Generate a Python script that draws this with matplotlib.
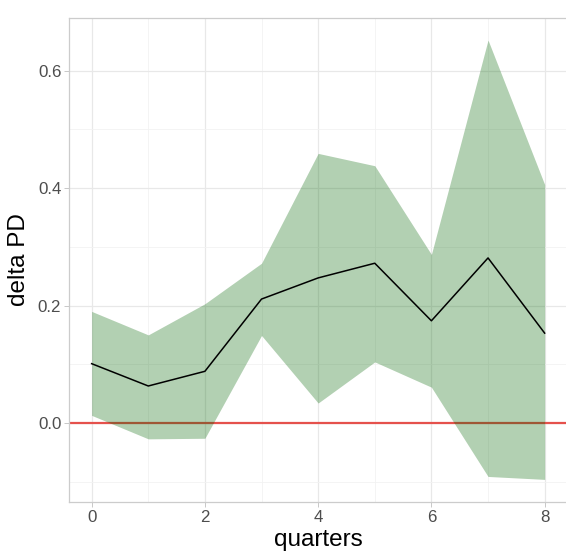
import matplotlib
matplotlib.use("Agg")
import matplotlib.pyplot as plt
from matplotlib.ticker import MultipleLocator

quarters = [0, 1, 2, 3, 4, 5, 6, 7, 8]
delta_pd = [0.101, 0.063, 0.088, 0.211, 0.247, 0.272, 0.174, 0.281, 0.153]
upper = [0.190, 0.150, 0.203, 0.272, 0.459, 0.438, 0.287, 0.652, 0.406]
lower = [0.013, -0.027, -0.026, 0.149, 0.034, 0.104, 0.061, -0.091, -0.096]

plt.rcParams['font.family'] = ['Liberation Sans', 'DejaVu Sans']

fig = plt.figure(figsize=(5.66, 5.52), dpi=100)
ax = fig.add_axes([69/566, (552-502)/552, 498.3/566, 484/552])

ax.set_xlim(-0.4, 8.4)
ax.set_ylim(-0.1345, 0.6895)

ax.xaxis.set_major_locator(MultipleLocator(2))
ax.xaxis.set_minor_locator(MultipleLocator(1))
ax.yaxis.set_major_locator(MultipleLocator(0.2))
ax.yaxis.set_minor_locator(MultipleLocator(0.1))
ax.yaxis.set_major_formatter(matplotlib.ticker.FormatStrFormatter('%.1f'))

ax.grid(which='major', color='#e8e8e8', lw=0.9, zorder=0)
ax.grid(which='minor', color='#f2f2f2', lw=0.6, zorder=0)
ax.set_axisbelow(True)

ax.axhline(0, color='#e5514c', lw=1.6, zorder=1)
ax.fill_between(quarters, lower, upper, color='darkgreen', alpha=0.3, lw=0, zorder=2)
ax.plot(quarters, delta_pd, color='black', lw=1.1, zorder=3)

for s in ax.spines.values():
    s.set_color('#cccccc')
    s.set_linewidth(0.9)
ax.spines['right'].set_visible(False)

ax.tick_params(which='major', length=3.5, width=0.7, color='#c8c8c8',
               labelsize=12.2, labelcolor='#4d4d4d', pad=2)
ax.tick_params(which='minor', length=0)

ax.set_xlabel('quarters', fontsize=17.5, color='black', labelpad=3)
ax.set_ylabel('delta PD', fontsize=17.5, color='black', labelpad=6)

fig.savefig('out.png', dpi=100)
